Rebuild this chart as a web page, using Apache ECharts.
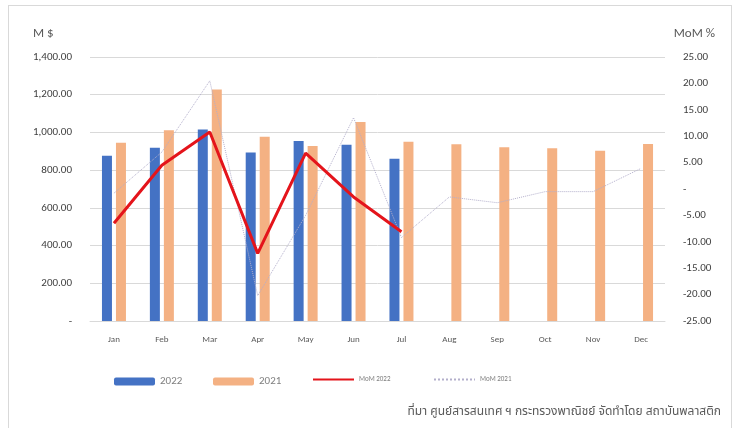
<!DOCTYPE html>
<html>
<head>
<meta charset="utf-8">
<script src="https://cdn.jsdelivr.net/npm/echarts@6/dist/echarts.min.js"></script>
<style>
  html, body { margin: 0; padding: 0; background: #fff; }
  #chart { width: 736px; height: 428px; }
  #frame { position: absolute; left: 8px; top: 5px; width: 722px; height: 440px; border: 1px solid #d9d9d9; pointer-events: none; }
</style>
</head>
<body>
<div id="chart"></div>
<div id="frame"></div>
<script>
const months = ['Jan', 'Feb', 'Mar', 'Apr', 'May', 'Jun', 'Jul', 'Aug', 'Sep', 'Oct', 'Nov', 'Dec']
const value2022 = [876, 919, 1016, 894, 954, 935, 860, null, null, null, null, null]
const value2021 = [945, 1012, 1228, 977, 928, 1055, 951, 937, 921, 916, 903, 938]
const mom2022 = [-6.5, 4.5, 10.8, -12.2, 6.8, -1.5, -8.1, null, null, null, null, null]
const mom2021 = [-0.8, 7.0, 20.5, -20.2, -5.0, 13.5, -9.2, -1.5, -2.6, -0.5, -0.5, 3.9]
const sourceText = 'ที่มา ศูนย์สารสนเทศ ฯ กระทรวงพาณิชย์ จัดทำโดย สถาบันพลาสติก'

const fmt = (v) => (v === 0 ? '-' : v.toLocaleString('en-US', { minimumFractionDigits: 2, maximumFractionDigits: 2 }))

const chart = echarts.init(document.getElementById('chart'))
const font = 'Calibri, Carlito, "Liberation Sans", "Noto Sans", sans-serif'

// one legend per item so each sits where it does in the original
const legendAt = (name, left, small) => {
  const lg = {
    top: 371,
    left,
    itemWidth: 41,
    itemHeight: 8,
    itemGap: 4,
    textStyle: { fontSize: small ? 7 : 11, color: '#7f7f7f' },
    data: [name],
  }
  if (small) lg.itemStyle = { opacity: 0 }
  return lg
}

chart.setOption({
  animation: false,
  textStyle: { fontFamily: font },
  grid: { left: 90, right: 71, top: 57, bottom: 107 },
  title: [
    { text: 'M $', left: 28, top: 22, textStyle: { fontSize: 13, fontWeight: 'normal', color: '#595959' } },
    { text: 'MoM %', right: 16, top: 22, textStyle: { fontSize: 13, fontWeight: 'normal', color: '#595959' } },
    { text: sourceText, right: 10, top: 402, textStyle: { fontSize: 12, fontWeight: 'normal', color: '#595959', fontFamily: '"Noto Sans Thai", "Noto Sans", "DejaVu Sans", sans-serif' } },
  ],
  legend: [
    legendAt('2022', 109, false),
    legendAt('2021', 208, false),
    legendAt('MoM 2022', 307, true),
    legendAt('MoM 2021', 428, true),
  ],
  xAxis: {
    type: 'category',
    data: months,
    axisLine: { lineStyle: { color: '#d9d9d9' } },
    axisTick: { show: false },
    axisLabel: { fontSize: 9, color: '#595959', margin: 14 },
  },
  yAxis: [
    {
      type: 'value',
      min: 0,
      max: 1400,
      interval: 200,
      axisLabel: { fontSize: 11, color: '#404040', formatter: fmt, margin: 18 },
      splitLine: { lineStyle: { color: '#d9d9d9' } },
    },
    {
      type: 'value',
      min: -25,
      max: 25,
      interval: 5,
      axisLabel: { fontSize: 11, color: '#404040', formatter: fmt, margin: 18 },
      splitLine: { show: false },
    },
  ],
  series: [
    {
      name: '2022',
      type: 'bar',
      data: value2022,
      barWidth: 10,
      barGap: '40%',
      itemStyle: { color: '#4472C4' },
    },
    {
      name: '2021',
      type: 'bar',
      data: value2021,
      barWidth: 10,
      itemStyle: { color: '#F4B183' },
    },
    {
      name: 'MoM 2022',
      type: 'line',
      yAxisIndex: 1,
      data: mom2022,
      symbol: 'none',
      lineStyle: { color: '#E4141B', width: 3 },
      itemStyle: { color: '#E4141B' },
      z: 5,
    },
    {
      name: 'MoM 2021',
      type: 'line',
      yAxisIndex: 1,
      data: mom2021,
      symbol: 'none',
      lineStyle: { color: '#B3AFCB', width: 1, type: 'dotted' },
      itemStyle: { color: '#B3AFCB' },
      z: 4,
    },
  ],
})
</script>
</body>
</html>
